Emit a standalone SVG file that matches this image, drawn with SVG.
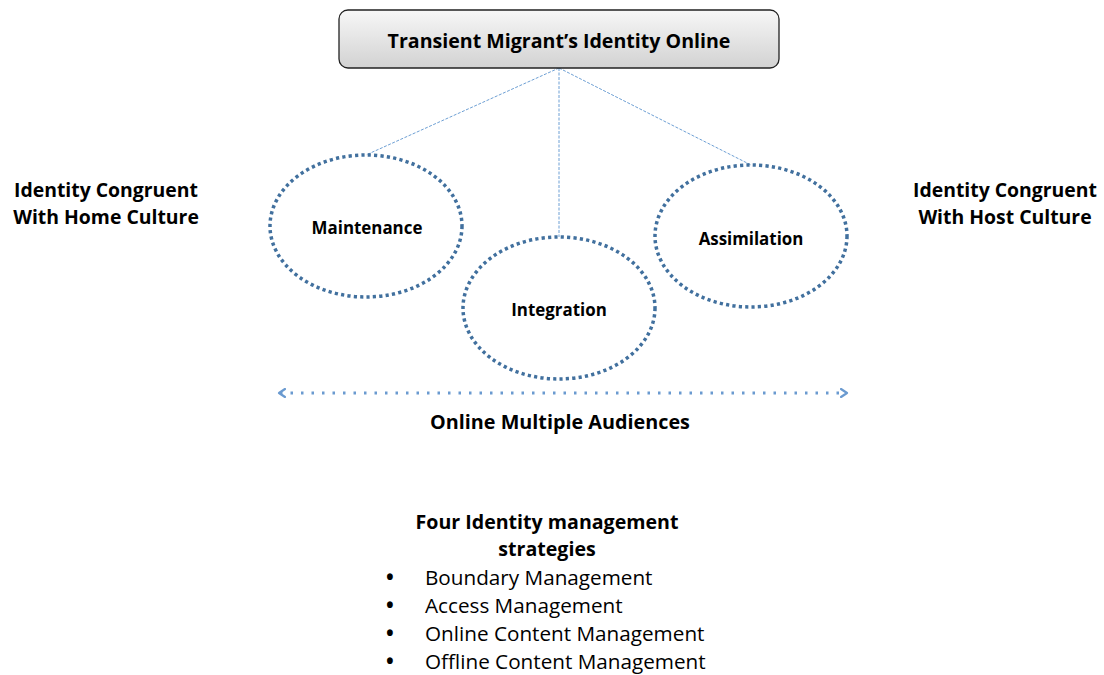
<svg xmlns="http://www.w3.org/2000/svg" width="1104" height="675" viewBox="0 0 1104 675">
<defs>
<linearGradient id="boxg" x1="0" y1="0" x2="0" y2="1">
<stop offset="0" stop-color="#f7f7f7"/>
<stop offset="1" stop-color="#d2d2d2"/>
</linearGradient>
<marker id="chev" viewBox="0 0 10 10" refX="6" refY="5" markerWidth="10" markerHeight="10" markerUnits="userSpaceOnUse" orient="auto-start-reverse">
<path d="M1,1 L7,5 L1,9" fill="none" stroke="#6a9ad0" stroke-width="2.2" stroke-linecap="round" stroke-linejoin="round"/>
</marker>
</defs>
<style>
.t{font-family:"Open Sans","Liberation Sans",sans-serif;fill:#000}
.b{font-weight:bold}
.ell{fill:none;stroke:#41709e;stroke-width:3.5;stroke-dasharray:3.2 3.2}
.lnk{stroke:#6d9fd4;stroke-width:1;stroke-dasharray:3 1.5;fill:none}
</style>
<rect width="1104" height="675" fill="#fff"/>
<g id="connectors">
<line class="lnk" x1="559" y1="68" x2="366" y2="155"/>
<line class="lnk" x1="559" y1="68" x2="559" y2="237"/>
<line class="lnk" x1="559" y1="68" x2="751" y2="165"/>
<line x1="280" y1="393" x2="846" y2="393" stroke="#6a9ad0" stroke-width="3" stroke-dasharray="2.5 8" marker-start="url(#chev)" marker-end="url(#chev)"/>
</g>
<g id="top">
<rect x="339" y="10" width="440" height="58" rx="9" fill="url(#boxg)" stroke="#222" stroke-width="1.3"/>
<text class="t b" x="559" y="48" font-size="19.6" text-anchor="middle">Transient Migrant’s Identity Online</text>
</g>
<g id="maintenance">
<ellipse class="ell" cx="366" cy="226" rx="96" ry="71"/>
<text class="t b" x="367" y="234" font-size="16.9" text-anchor="middle">Maintenance</text>
</g>
<g id="integration">
<ellipse class="ell" cx="559" cy="308" rx="96" ry="71"/>
<text class="t b" x="559" y="316" font-size="16.9" text-anchor="middle">Integration</text>
</g>
<g id="assimilation">
<ellipse class="ell" cx="751" cy="236" rx="96" ry="71"/>
<text class="t b" x="751" y="245" font-size="16.9" text-anchor="middle">Assimilation</text>
</g>
<g id="home">
<text class="t b" x="106" y="197" font-size="19.4" text-anchor="middle">Identity Congruent</text>
<text class="t b" x="106" y="224" font-size="19.4" text-anchor="middle">With Home Culture</text>
</g>
<g id="host">
<text class="t b" x="1005" y="197" font-size="19.4" text-anchor="middle">Identity Congruent</text>
<text class="t b" x="1005" y="224" font-size="19.4" text-anchor="middle">With Host Culture</text>
</g>
<g id="audiences">
<text class="t b" x="560" y="429" font-size="19.8" text-anchor="middle">Online Multiple Audiences</text>
</g>
<g id="strategies">
<text class="t b" x="547" y="529" font-size="19.6" text-anchor="middle">Four Identity management</text>
<text class="t b" x="547" y="556" font-size="19.6" text-anchor="middle">strategies</text>
<g class="t" font-size="20.7">
<text x="386" y="585" font-weight="bold">•</text><text x="425" y="585">Boundary Management</text>
<text x="386" y="613" font-weight="bold">•</text><text x="425" y="613">Access Management</text>
<text x="386" y="641" font-weight="bold">•</text><text x="425" y="641">Online Content Management</text>
<text x="386" y="669" font-weight="bold">•</text><text x="425" y="669">Offline Content Management</text>
</g>
</g>
</svg>
